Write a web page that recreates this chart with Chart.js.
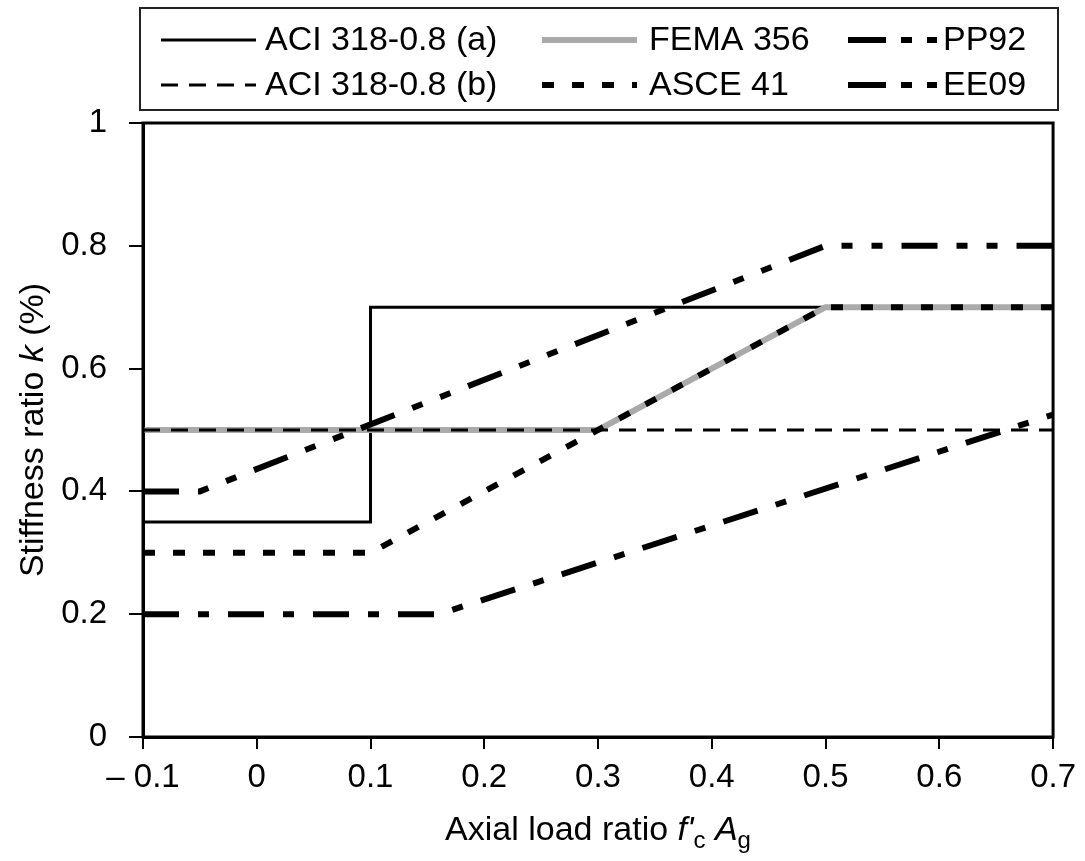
<!DOCTYPE html>
<html>
<head>
<meta charset="utf-8">
<script src="https://cdn.jsdelivr.net/npm/chart.js@4"></script>
<style>
  body { margin: 0; background: #fff; }
  #wrap { width: 1085px; height: 861px; position: relative; }
</style>
</head>
<body>
<div id="wrap"><canvas id="stiffChart"></canvas></div>
<script>
// axis ticks
const xTickVals = [-0.1, 0, 0.1, 0.2, 0.3, 0.4, 0.5, 0.6, 0.7];
const xTickLabels = ["\u2013 0.1", "0", "0.1", "0.2", "0.3", "0.4", "0.5", "0.6", "0.7"];
const yTickVals = [0, 0.2, 0.4, 0.6, 0.8, 1];
const yTickLabels = ["0", "0.2", "0.4", "0.6", "0.8", "1"];

// series (axial load ratio -> stiffness ratio)
const aciAx = [-0.1, 0.1, 0.1, 0.7];
const aciAy = [0.35, 0.35, 0.7, 0.7];
const aciBx = [-0.1, 0.7];
const aciBy = [0.5, 0.5];
const femaX = [-0.1, 0.3, 0.5, 0.7];
const femaY = [0.5, 0.5, 0.7, 0.7];
const asceX = [-0.1, 0.1, 0.5, 0.7];
const asceY = [0.3, 0.3, 0.7, 0.7];
const pp92X = [-0.1, -0.05, 0.5, 0.7];
const pp92Y = [0.4, 0.4, 0.8, 0.8];
const ee09X = [-0.1, 0.16, 0.7];
const ee09Y = [0.2, 0.2, 0.525];

const FONT = '"Liberation Sans", Arial, Helvetica, sans-serif';

function pts(xs, ys) {
  return xs.map((x, i) => ({ x: x, y: ys[i] }));
}

function line(label, xs, ys, color, width, dash) {
  return {
    label: label,
    data: pts(xs, ys),
    borderColor: color,
    borderWidth: width,
    borderDash: dash,
    borderCapStyle: "butt",
    borderJoinStyle: "miter",
    pointRadius: 0,
    showLine: true,
    fill: false,
    tension: 0
  };
}

// first dataset is drawn on top
const datasets = [
  line("ASCE 41", asceX, asceY, "#000", 6, [12, 18]),
  line("ACI 318-0.8 (b)", aciBx, aciBy, "#000", 3, [17, 11]),
  line("PP92", pp92X, pp92Y, "#000", 6, [36, 19, 11, 19, 11, 19]),
  line("EE09", ee09X, ee09Y, "#000", 6, [36, 19, 11, 19]),
  line("FEMA 356", femaX, femaY, "#aaaaaa", 6, []),
  line("ACI 318-0.8 (a)", aciAx, aciAy, "#000", 3, [])
];

// legend placement, column by column
const legendOrder = ["ACI 318-0.8 (a)", "ACI 318-0.8 (b)", "FEMA 356", "ASCE 41", "PP92", "EE09"];
const legendDash = { "PP92": [38, 15, 11, 15, 11, 15], "EE09": [38, 15, 11, 15, 11, 15] };

function drawRich(ctx, parts, x, y, size) {
  const fontOf = p => (p.italic ? "italic " : "") + (p.sub ? Math.round(size * 0.7) : size) + "px " + FONT;
  let total = 0;
  parts.forEach(p => { ctx.font = fontOf(p); total += ctx.measureText(p.t).width; });
  let cx = x - total / 2;
  parts.forEach(p => {
    ctx.font = fontOf(p);
    ctx.fillText(p.t, cx, y + (p.sub ? 8 : 0));
    cx += ctx.measureText(p.t).width;
  });
}

const decorations = {
  id: "decorations",
  afterDraw(chart) {
    const ctx = chart.ctx;
    const a = chart.chartArea;
    ctx.save();

    // plot frame
    ctx.strokeStyle = "#000";
    ctx.lineWidth = 3;
    ctx.setLineDash([]);
    ctx.strokeRect(a.left, a.top, a.right - a.left, a.bottom - a.top);

    // legend box
    ctx.strokeStyle = "#222";
    ctx.lineWidth = 2;
    ctx.strokeRect(140, 8, 918, 102);

    const colSample = [161, 542, 848];
    const colLen = [95, 95, 89];
    const colText = [265, 649, 943];
    const rowY = [40, 85];
    ctx.fillStyle = "#000";
    ctx.textBaseline = "middle";
    ctx.font = "34px " + FONT;
    legendOrder.forEach((lab, i) => {
      const ds = chart.data.datasets.find(d => d.label === lab);
      const col = Math.floor(i / 2), row = i % 2;
      const y = rowY[row];
      ctx.strokeStyle = ds.borderColor;
      ctx.lineWidth = ds.borderWidth;
      ctx.lineCap = "butt";
      ctx.setLineDash(legendDash[lab] || ds.borderDash);
      ctx.beginPath();
      ctx.moveTo(colSample[col], y);
      ctx.lineTo(colSample[col] + colLen[col], y);
      ctx.stroke();
      ctx.fillText(lab, colText[col], y + 1);
    });
    ctx.setLineDash([]);

    // axis titles
    ctx.textBaseline = "alphabetic";
    ctx.textAlign = "left";
    drawRich(ctx, [
      { t: "Axial load ratio " },
      { t: "f'", italic: true },
      { t: "c", sub: true },
      { t: " " },
      { t: "A", italic: true },
      { t: "g", sub: true }
    ], (a.left + a.right) / 2, 840, 34);

    ctx.translate(43, (a.top + a.bottom) / 2);
    ctx.rotate(-Math.PI / 2);
    drawRich(ctx, [
      { t: "Stiffness ratio " },
      { t: "k", italic: true },
      { t: " (%)" }
    ], 0, 0, 34);

    ctx.restore();
  }
};

new Chart(document.getElementById("stiffChart").getContext("2d"), {
  type: "scatter",
  data: { datasets: datasets },
  options: {
    responsive: true,
    maintainAspectRatio: false,
    animation: false,
    layout: { padding: { top: 123, right: 30, left: 0, bottom: 0 } },
    plugins: {
      legend: { display: false },
      tooltip: { enabled: false }
    },
    scales: {
      x: {
        type: "linear",
        min: -0.1,
        max: 0.7,
        afterBuildTicks: s => { s.ticks = xTickVals.map(v => ({ value: v })); },
        afterFit: s => { s.height = 124; },
        ticks: {
          color: "#000",
          font: { family: FONT, size: 33 },
          padding: 9,
          maxRotation: 0,
          autoSkip: false,
          callback: (v, i) => xTickLabels[i]
        },
        grid: { drawOnChartArea: false, drawTicks: true, tickLength: 12, color: "#000", lineWidth: 2 },
        border: { display: true, color: "#000", width: 3 }
      },
      y: {
        type: "linear",
        min: 0,
        max: 1,
        afterBuildTicks: s => { s.ticks = yTickVals.map(v => ({ value: v })); },
        afterFit: s => { s.width = 143; },
        ticks: {
          color: "#000",
          font: { family: FONT, size: 33 },
          padding: 22,
          autoSkip: false,
          callback: (v, i) => yTickLabels[i]
        },
        grid: { drawOnChartArea: false, drawTicks: true, tickLength: 14, color: "#000", lineWidth: 2 },
        border: { display: true, color: "#000", width: 3 }
      }
    }
  },
  plugins: [decorations]
});
</script>
</body>
</html>
